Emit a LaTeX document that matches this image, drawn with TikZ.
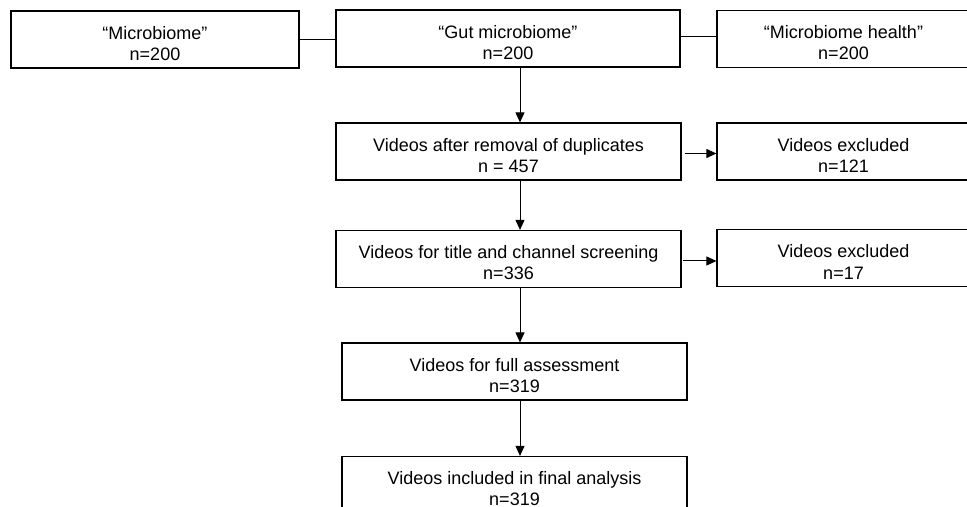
\documentclass[tikz,border=0pt]{standalone}
\usepackage{fontspec}
\setmainfont{Liberation Sans}
\usetikzlibrary{arrows.meta}
\tikzset{
	box/.style={draw, line width=0.6pt, minimum height=28.5pt, inner sep=0pt, align=center, font=\fontsize{9}{10.5}\selectfont},
	arr/.style={-{Triangle[length=5pt,width=4.5pt]}, line width=0.5pt}
}
\newcommand{\up}{\rule{0pt}{10.5pt}}
\begin{document}
\begin{tikzpicture}[x=0.5pt,y=-0.5pt]
		\clip (0,0) rectangle (967,507);
		\node[box, minimum width=144pt] (mb) at (155,39.5) {\up“Microbiome”\\n=200};
		\node[box, minimum width=172pt] (gut) at (508,38.5) {\up“Gut microbiome”\\n=200};
		\node[box, minimum width=126.5pt] (health) at (843.5,39) {\up“Microbiome health”\\n=200};
		\node[box, minimum width=172.5pt] (dup) at (508.5,151.5) {\up Videos after removal of duplicates\\n = 457};
		\node[box, minimum width=126.5pt] (exA) at (843.5,151.5) {\up Videos excluded\\n=121};
		\node[box, minimum width=172.5pt] (title) at (508.5,259) {\up Videos for title and channel screening\\n=336};
		\node[box, minimum width=126.5pt] (exB) at (843.5,258) {\up Videos excluded\\n=17};
		\node[box, minimum width=172.5pt] (full) at (514.5,371.5) {\up Videos for full assessment\\n=319};
		\node[box, minimum width=172.5pt] (final) at (514.5,485) {\up Videos included in final analysis\\n=319};
		\coordinate (spine) at (520,0);

		\draw[line width=0.5pt] (mb.east) -- (mb.east -| gut.west);
		\draw[line width=0.5pt] ([yshift=1pt]gut.east) -- ([yshift=1pt]gut.east -| health.west);
		\draw[arr] (gut.south -| spine) -- (dup.north -| spine);
		\draw[arr] (dup.south -| spine) -- (title.north -| spine);
		\draw[arr] (title.south -| spine) -- (full.north -| spine);
		\draw[arr] (full.south -| spine) -- (final.north -| spine);
		\draw[arr] ([xshift=1.5pt,yshift=-1pt]dup.east) -- ([yshift=-1pt]dup.east -| exA.west);
		\draw[arr] ([xshift=0.5pt,yshift=-1pt]title.east) -- ([yshift=-1pt]title.east -| exB.west);
	\end{tikzpicture}
\end{document}
